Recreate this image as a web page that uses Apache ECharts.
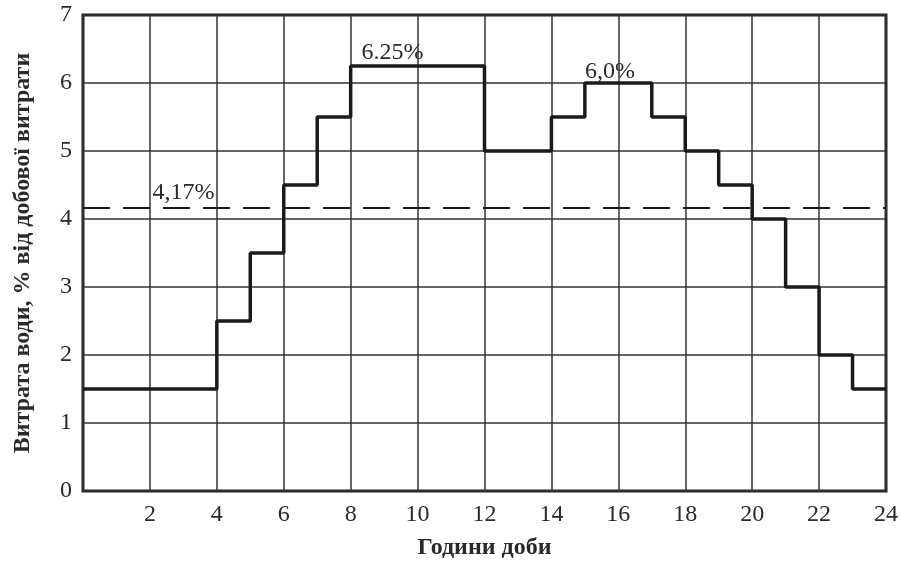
<!DOCTYPE html>
<html>
<head>
<meta charset="utf-8">
<script src="https://cdn.jsdelivr.net/npm/echarts@6/dist/echarts.min.js"></script>
<style>
html,body{margin:0;padding:0;background:#fff;}
#c{width:901px;height:567px;}
</style>
</head>
<body>
<div id="c"></div>
<script>
// Hourly water consumption, % of daily total (hour 0..23)
const hours = [0,1,2,3,4,5,6,7,8,9,10,11,12,13,14,15,16,17,18,19,20,21,22,23];
const consumption = [1.5,1.5,1.5,1.5,2.5,3.5,4.5,5.5,6.25,6.25,6.25,6.25,5.0,5.0,5.5,6.0,6.0,5.5,5.0,4.5,4.0,3.0,2.0,1.5];
const averageLevel = 4.17;
const xTicks = [2,4,6,8,10,12,14,16,18,20,22,24];
const yTicks = [0,1,2,3,4,5,6,7];
const annotations = [
  {text:'4,17%', x:3.0, y:4.38},
  {text:'6.25%', x:9.25, y:6.44},
  {text:'6,0%', x:15.75, y:6.16}
];

const stepData = hours.map((h,i)=>[h, consumption[i]]);
stepData.push([24, consumption[consumption.length-1]]);

const font = '"Liberation Serif", "DejaVu Serif", serif';
const chart = echarts.init(document.getElementById('c'));
chart.setOption({
  backgroundColor:'#fff',
  animation:false,
  grid:{left:83,right:12,top:15,bottom:76,show:true,borderColor:'#1e1e1e',borderWidth:3,backgroundColor:'transparent'},
  xAxis:{
    type:'value',min:0,max:24,interval:2,
    name:'Години доби',nameLocation:'middle',nameGap:45,
    nameTextStyle:{fontFamily:font,fontWeight:'bold',fontSize:24,color:'#2a2a2a'},
    axisLine:{show:false},axisTick:{show:false},
    axisLabel:{fontFamily:font,fontSize:24,color:'#2a2a2a',margin:12,
      formatter:v=> xTicks.includes(v)? String(v):''},
    splitLine:{show:true,lineStyle:{color:'#333',width:1.5}}
  },
  yAxis:{
    type:'value',min:0,max:7,interval:1,
    name:'Витрата води, % від добової витрати',nameLocation:'middle',nameGap:48,
    nameTextStyle:{fontFamily:font,fontWeight:'bold',fontSize:24,color:'#2a2a2a'},
    axisLine:{show:false},axisTick:{show:false},
    axisLabel:{fontFamily:font,fontSize:24,color:'#2a2a2a',margin:11,
      formatter:v=> yTicks.includes(v)? String(v):''},
    splitLine:{show:true,lineStyle:{color:'#333',width:1.5}}
  },
  series:[{
    type:'line',step:'end',data:stepData,symbol:'none',
    lineStyle:{color:'#1a1a1a',width:3.5},
    markLine:{silent:true,symbol:'none',label:{show:false},
      lineStyle:{color:'#1a1a1a',width:2,type:[27,13]},
      data:[{yAxis:averageLevel}]},
    markPoint:{symbol:'circle',symbolSize:1,itemStyle:{color:'rgba(0,0,0,0)'},
      label:{show:true,position:'inside',fontFamily:font,fontSize:24,color:'#2a2a2a',
        formatter:p=>p.name},
      data:annotations.map(a=>({name:a.text,coord:[a.x,a.y]}))}
  }]
});
</script>
</body>
</html>
